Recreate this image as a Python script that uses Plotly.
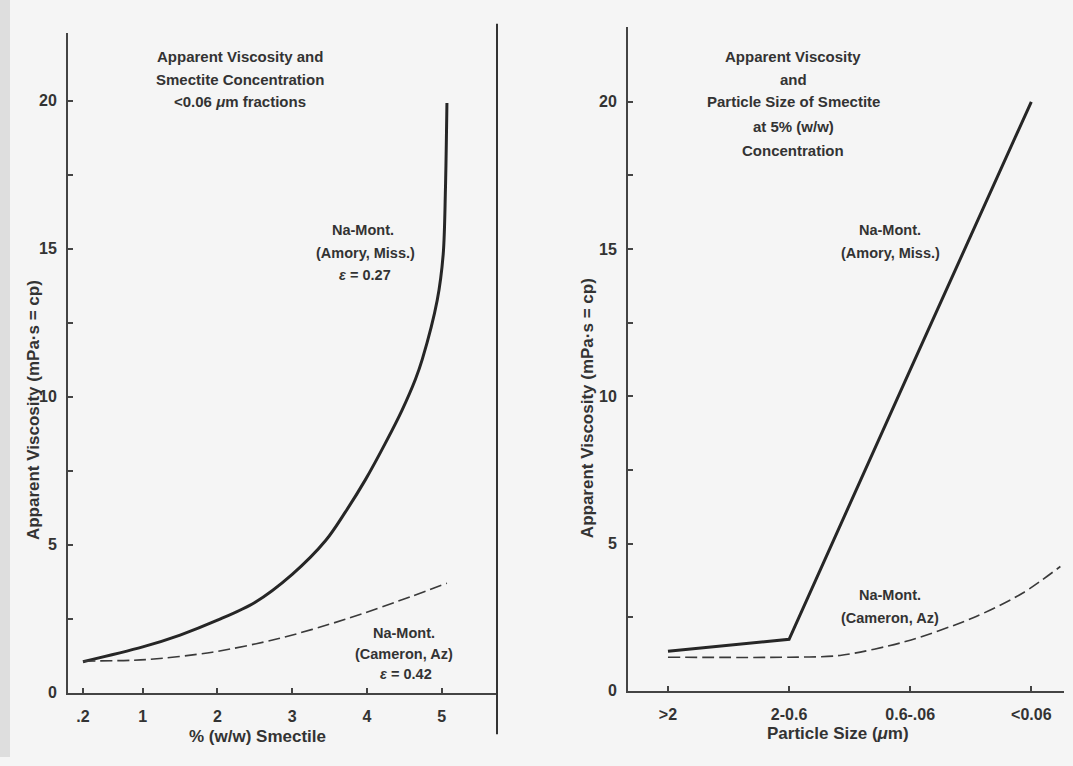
import plotly.graph_objects as go

# ---------- Left panel: apparent viscosity vs smectite concentration (<0.06 um fractions)
conc_amory = [0.2, 1, 1.5, 2, 2.5, 3, 3.45, 3.71, 3.98, 4.25, 4.47, 4.65, 4.74, 4.94, 5.02, 5.05, 5.07]
visc_amory = [1.05, 1.55, 1.95, 2.45, 3.05, 4.0, 5.15, 6.1, 7.2, 8.45, 9.55, 10.6, 11.26, 13.26, 14.81, 17.0, 19.92]
conc_cameron = [0.2, 1.04, 1.93, 2.82, 3.71, 4.6, 5.07]
visc_cameron = [1.07, 1.12, 1.37, 1.83, 2.48, 3.26, 3.7]
conc_ticks = [0.2, 1, 2, 3, 4, 5]
conc_ticktext = [".2", "1", "2", "3", "4", "5"]

# ---------- Right panel: apparent viscosity vs particle size at 5% (w/w)
size_labels = [">2", "2-0.6", "0.6-.06", "<0.06"]
size_amory_pos = [0, 1, 2, 3]
visc_size_amory = [1.34, 1.75, 10.9, 20.0]
size_cameron_pos = [0, 1, 1.42, 1.96, 2.52, 2.93, 3.24]
visc_size_cameron = [1.14, 1.14, 1.2, 1.67, 2.48, 3.32, 4.22]

visc_ticks = [0, 2.5, 5, 7.5, 10, 12.5, 15, 17.5, 20]
visc_ticktext = ["0", "", "5", "", "10", "", "15", "", "20"]

W, H = 1073, 766
FONT = "Liberation Sans"
TXT = "#333333"
LINE = "#262626"


def esc(s):
    return s.replace("<", "&lt;").replace(">", "&gt;")


def px(x):
    return x / W


def py(y):
    return (H - y) / H


fig = go.Figure()

fig.add_trace(go.Scatter(x=conc_amory, y=visc_amory, mode="lines",
                         line=dict(color=LINE, width=3, shape="spline", smoothing=0.9),
                         xaxis="x", yaxis="y", showlegend=False))
fig.add_trace(go.Scatter(x=conc_cameron, y=visc_cameron, mode="lines",
                         line=dict(color="#3a3a3a", width=1.6, dash="12px,5px", shape="spline", smoothing=0.8),
                         xaxis="x", yaxis="y", showlegend=False))
fig.add_trace(go.Scatter(x=size_amory_pos, y=visc_size_amory, mode="lines",
                         line=dict(color=LINE, width=3),
                         xaxis="x2", yaxis="y2", showlegend=False))
fig.add_trace(go.Scatter(x=size_cameron_pos, y=visc_size_cameron, mode="lines",
                         line=dict(color="#3a3a3a", width=1.6, dash="12px,5px", shape="spline", smoothing=0.8),
                         xaxis="x2", yaxis="y2", showlegend=False))

axis_common = dict(showgrid=False, zeroline=False, showline=True, linecolor="#444444",
                   linewidth=2, ticks="inside", ticklen=5, tickwidth=1.5, tickcolor="#444444",
                   tickfont=dict(family=FONT, size=16, color=TXT, weight="bold"))

fig.update_layout(
    width=W, height=H,
    margin=dict(l=0, r=0, t=0, b=0),
    paper_bgcolor="#f5f5f5", plot_bgcolor="rgba(0,0,0,0)",
    font=dict(family=FONT, color=TXT),
    xaxis=dict(domain=[px(68), px(497)], range=[0, 5.74], tickvals=conc_ticks,
               ticktext=conc_ticktext, anchor="y", ticklabelstandoff=8, **axis_common),
    yaxis=dict(domain=[py(701), py(33)], range=[0, 22.3], tickvals=visc_ticks,
               ticktext=visc_ticktext, anchor="x", ticklabelstandoff=6, **axis_common),
    xaxis2=dict(domain=[px(628), px(1064)], range=[-0.33, 3.27], tickvals=[0, 1, 2, 3],
                ticktext=[esc(s) for s in size_labels], anchor="y2", ticklabelstandoff=8, **axis_common),
    yaxis2=dict(domain=[py(699), py(27)], range=[0, 22.55], tickvals=visc_ticks,
                ticktext=visc_ticktext, anchor="x2", ticklabelstandoff=6, **axis_common),
)

# separator / frame line between panels
fig.add_shape(type="line", xref="paper", yref="paper", x0=px(497), x1=px(497),
              y0=py(743), y1=py(24), line=dict(color="#333333", width=2))
# scanned page left shadow strip
fig.add_shape(type="rect", xref="paper", yref="paper", x0=0, x1=px(10), y0=0, y1=1,
              fillcolor="#dedede", line=dict(width=0), layer="below")


def ann(x, y, text, size=15, angle=0):
    fig.add_annotation(xref="paper", yref="paper", x=px(x), y=py(y), text="<b>" + text + "</b>",
                       showarrow=False, xanchor="center", yanchor="middle", textangle=angle,
                       font=dict(family=FONT, size=size, color=TXT))


# left panel texts
ann(240, 57, "Apparent Viscosity and")
ann(240, 80, "Smectite Concentration")
ann(240, 103, "&lt;0.06 <i>μ</i>m fractions")
ann(363, 233, "Na-Mont.", 14.5)
ann(365, 256, "(Amory, Miss.)", 14.5)
ann(365, 278, "<i>ε</i> = 0.27", 14.5)
ann(404, 641, "Na-Mont.", 14.5)
ann(404, 662, "(Cameron, Az)", 14.5)
ann(406, 682, "<i>ε</i> = 0.42", 14.5)
ann(33, 415, "Apparent Viscosity (mPa·s = cp)", 17, -90)
ann(257, 745, "% (w/w) Smectile", 17)

# right panel texts
ann(793, 57, "Apparent Viscosity")
ann(793, 80, "and")
ann(793, 103, "Particle Size of Smectite")
ann(793, 128, "at 5% (w/w)")
ann(793, 152, "Concentration")
ann(890, 233, "Na-Mont.", 14.5)
ann(890, 256, "(Amory, Miss.)", 14.5)
ann(890, 602, "Na-Mont.", 14.5)
ann(890, 625, "(Cameron, Az)", 14.5)
ann(587, 413, "Apparent Viscosity (mPa·s = cp)", 17, -90)
ann(838, 742, "Particle Size (<i>μ</i>m)", 17)

fig.write_html("out.html")
